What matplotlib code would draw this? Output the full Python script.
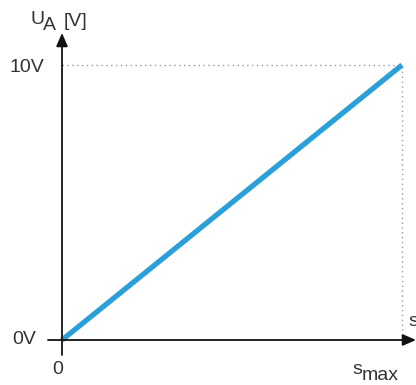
import matplotlib.pyplot as plt

plt.rcParams['font.family'] = ['Liberation Sans', 'DejaVu Sans']

# data: output voltage vs. travel (0 .. s_max)
s_values = [0.0, 1.0]
u_values = [0.0, 10.0]
y_tick_labels = ['0V', '10V']
x_tick_labels = ['0']

W, H = 416, 385
fig = plt.figure(figsize=(W / 100, H / 100), dpi=100)
ax = fig.add_axes([0, 0, 1, 1])

# pixel layout: origin at (62, 340), s_max at x=402, 10V at y=65
x0, x1 = 62, 402
y0, y1 = 340, 65
sx = (x1 - x0) / (s_values[1] - s_values[0])
sy = (y0 - y1) / (u_values[1] - u_values[0])
ax.set_xlim(-x0 / sx, (W - x0) / sx)
ax.set_ylim(-(H - y0) / sy, y0 / sy)
ax.axis('off')


def px(x, y):
    # pixel position (from top-left) -> data coords
    return (x - x0) / sx, (y0 - y) / sy


text_col = '#333333'
gray = '#9a9a9a'

# dotted guide lines
ax.plot([0, s_values[1]], [u_values[1], u_values[1]], ls=(0, (1, 2.5)), color=gray, lw=1)
ax.plot([s_values[1], s_values[1]], [0, u_values[1]], ls=(0, (1, 2.5)), color=gray, lw=1)

# axes with arrows
arrow = dict(arrowstyle='-|>,head_length=0.8,head_width=0.35',
             color='#111111', lw=1.3, shrinkA=0, shrinkB=0)
ax.annotate('', xy=px(62, 33), xytext=px(62, 355), arrowprops=arrow)
ax.annotate('', xy=px(416, 340), xytext=px(48, 340), arrowprops=arrow)

# the characteristic line
ax.plot(s_values, u_values, color='#2a9fd8', lw=3.8, solid_capstyle='butt')

fs = 14
kw = dict(fontsize=fs, color=text_col, va='center')
# y tick labels
ax.text(*px(44, 68), y_tick_labels[1], ha='right', **kw)
ax.text(*px(36, 340), y_tick_labels[0], ha='right', **kw)
# x tick label and s_max
ax.text(*px(57.5, 370), x_tick_labels[0], ha='center', **kw)
ax.text(*px(362, 370), 's', ha='right', **kw)
ax.text(*px(362, 375), 'max', ha='left', **kw)
# axis labels
ax.text(*px(44, 19), 'U', ha='right', **kw)
ax.text(*px(43, 25), 'A', ha='left', **kw)
ax.text(*px(64, 21), '[V]', ha='left', **kw)
ax.text(*px(408, 322), 's', ha='left', **kw)

fig.savefig('out.png', dpi=100)
